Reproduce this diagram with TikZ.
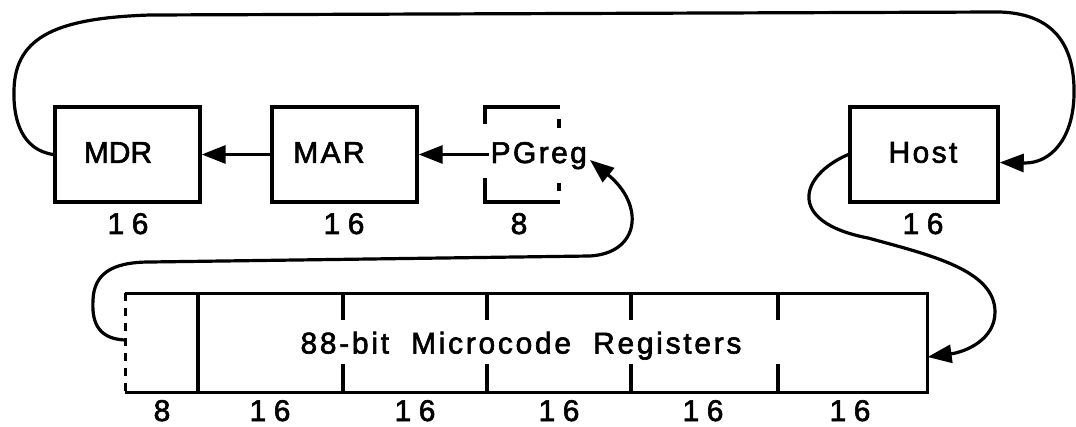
\documentclass[tikz,border=0pt]{standalone}
\usepackage{fontspec}
\setmainfont{Liberation Sans}
\usetikzlibrary{arrows.meta}
\begin{document}
\begin{tikzpicture}[x=1pt,y=-1pt,
  line width=3.2pt,
  regbox/.style={draw, line width=3.4pt, minimum height=95pt, inner sep=0pt},
  regtext/.style={inner sep=0pt, font=\fontsize{30}{32}\selectfont\addfontfeatures{LetterSpace=8,FakeBold=2}},
  lbl/.style={inner sep=0pt, anchor=base, font=\fontsize{30}{32}\selectfont\addfontfeatures{LetterSpace=25,FakeBold=2}},
  arr/.style={-{Triangle[length=24pt,width=18pt]}, line width=3.2pt},
]
\useasboundingbox (0,0) rectangle (1076,427);

% top boxes
\node[regbox, minimum width=145pt] (mdr) at (127.5,154.5) {};
\node[regtext, font=\fontsize{30}{32}\selectfont\addfontfeatures{LetterSpace=0,FakeBold=2}] (mdrt) at (118,152.5) {MDR};
\node[regbox, minimum width=145pt] (mar) at (344.5,154.5) {};
\node[regtext] (mart) at (329,152.5) {MAR};
\node[regbox, minimum width=148pt] (host) at (924,154.5) {};
\node[regtext] (hostt) at (923,152.5) {Host};

% PGreg (broken box)
\node[inner sep=0pt, minimum width=75pt, minimum height=95pt] (pg) at (522.5,154.5) {};
\draw[line width=3.4pt] (485,124) -- (485,107) -- (560,107);
\draw[line width=3.4pt] (485,178) -- (485,202) -- (560,202);
\draw[line width=3.4pt] (559,119) -- (559,128);
\draw[line width=3.4pt] (559,183) -- (559,191);
\node[regtext, anchor=base west] (pgt) at (489,163) {PGreg};

% width labels
\node[lbl] (l1) at (128,234) {16};
\node[lbl] (l2) at (344,234) {16};
\node[lbl] (l3) at (519,234) {8};
\node[lbl] (l4) at (923,234) {16};

% microcode register bar
\node[inner sep=0pt, minimum width=799pt, minimum height=96pt] (mc) at (526.5,343) {};
\draw[line width=3.4pt] (mc.north west) -- (mc.north east) -- (mc.south east) -- (mc.south west);
\draw[line width=3pt, dash pattern=on 8pt off 7pt] (mc.north west) -- (mc.south west);
\draw[line width=3.4pt] (198,295) -- (198,391);
\foreach \x in {343,487,631,778}{
  \draw[line width=3.4pt] (\x,295) -- (\x,320);
  \draw[line width=3.4pt] (\x,364) -- (\x,391);
}
\node[regtext, anchor=base, font=\fontsize{30}{32}\selectfont\addfontfeatures{LetterSpace=9,FakeBold=2}] (mct) at (521,353.5) {88-bit~~Microcode~~Registers};

\node[lbl] (b1) at (162,421) {8};
\node[lbl] (b2) at (270,421) {16};
\node[lbl] (b3) at (415,421) {16};
\node[lbl] (b4) at (559,421) {16};
\node[lbl] (b5) at (703,421) {16};
\node[lbl] (b6) at (850,421) {16};

% connectors
\draw[arr] (mar.west) -- (mdr.east);
\draw[arr] (mar.east -| pgt.west) -- (mar.east);

\draw[arr] (mdr.west) .. controls (22,150) and (13,120) .. (14,90)
  .. controls (15,35) and (60,18) .. (150,15)
  -- (1000,12)
  .. controls (1058,14) and (1075,50) .. (1074,95)
  .. controls (1073,140) and (1050,163) .. (1025,163)
  -- ([yshift=-8pt]host.east);

\coordinate (pgtip) at (590,160);
\draw[arr] ([yshift=3pt]mc.west) .. controls (95,339) and (92,318) .. (93,300)
  .. controls (94,275) and (110,262) .. (150,262)
  -- (590,256)
  .. controls (640,253) and (645,205) .. (pgtip);

\draw[arr] (host.west) .. controls (800,175) and (785,222) .. (868,238)
  .. controls (930,255) and (995,270) .. (995,312)
  .. controls (995,340) and (965,352) .. ([yshift=-14pt]mc.east);
\end{tikzpicture}
\end{document}
